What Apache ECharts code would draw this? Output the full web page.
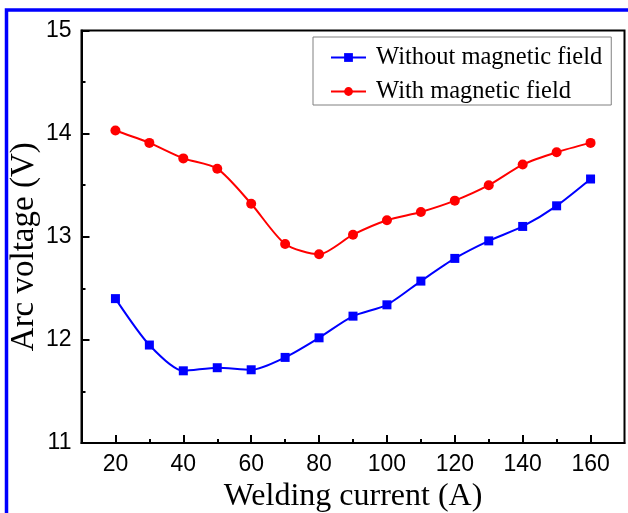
<!DOCTYPE html>
<html>
<head>
<meta charset="utf-8">
<script src="https://cdn.jsdelivr.net/npm/echarts@6/dist/echarts.min.js"></script>
<style>
	html, body { margin: 0; padding: 0; background: #fff; }
	#arc_chart { width: 628px; height: 513px; }
</style>
</head>
<body>
<div id="arc_chart"></div>
<script>
var currents = [20, 30, 40, 50, 60, 70, 80, 90, 100, 110, 120, 130, 140, 150, 160];
var withoutField = [12.40, 11.95, 11.70, 11.73, 11.71, 11.83, 12.02, 12.23, 12.34, 12.57, 12.79, 12.96, 13.10, 13.30, 13.56];
var withField = [14.03, 13.91, 13.76, 13.66, 13.32, 12.93, 12.83, 13.02, 13.16, 13.24, 13.35, 13.50, 13.70, 13.82, 13.91];
var xMajorTicks = [20, 40, 60, 80, 100, 120, 140, 160];
var xMinorTicks = [30, 50, 70, 90, 110, 130, 150];
var seriesNames = ['Without magnetic field', 'With magnetic field'];

window.onload = function () {
	"use strict";
	var chart = echarts.init(document.getElementById('arc_chart'));

	function pairs(values) {
		return currents.map(function (c, i) {
			return [c, values[i]];
		});
	}

	var option = {
		animation: false,
		backgroundColor: '#fff',
		grid: {
			left: 81.5,
			right: 3.5,
			top: 30.5,
			bottom: 70,
			containLabel: false,
			outerBoundsMode: 'none',
			show: true,
			borderColor: '#000',
			borderWidth: 2
		},
		graphic: [{
			type: 'rect',
			shape: { x: 6.5, y: 10, width: 700, height: 600 },
			style: { fill: 'none', stroke: '#0000ff', lineWidth: 3.5 },
			silent: true,
			z: 100
		}],
		legend: {
			orient: 'vertical',
			left: 313,
			top: 37,
			padding: [8, 9, 1, 17],
			itemGap: 9,
			itemWidth: 35,
			itemHeight: 11,
			borderColor: '#808080',
			borderWidth: 1,
			backgroundColor: '#fff',
			data: seriesNames,
			textStyle: {
				fontFamily: 'Liberation Serif',
				fontSize: 24.5,
				lineHeight: 24,
				color: '#000',
				padding: [0, 0, 0, 5]
			}
		},
		xAxis: [{
			type: 'value',
			min: 10,
			max: 170,
			interval: 10,
			position: 'bottom',
			name: 'Welding current (A)',
			nameLocation: 'middle',
			nameGap: 36,
			nameTextStyle: {
				fontFamily: 'Liberation Serif',
				fontSize: 32,
				color: '#000'
			},
			axisLine: { lineStyle: { color: '#000', width: 2 } },
			axisTick: {
				inside: true,
				length: 8,
				customValues: xMajorTicks,
				lineStyle: { color: '#000', width: 2 }
			},
			axisLabel: {
				customValues: xMajorTicks,
				margin: 10,
				fontFamily: 'Liberation Sans',
				fontSize: 23,
				color: '#000'
			},
			splitLine: { show: false }
		}, {
			type: 'value',
			min: 10,
			max: 170,
			position: 'bottom',
			axisLine: { show: false },
			axisTick: {
				inside: true,
				length: 4,
				customValues: xMinorTicks,
				lineStyle: { color: '#000', width: 2 }
			},
			axisLabel: { show: false },
			splitLine: { show: false }
		}],
		yAxis: {
			type: 'value',
			min: 11,
			max: 15,
			interval: 1,
			name: 'Arc voltage (V)',
			nameLocation: 'middle',
			nameGap: 41,
			nameMoveOverlap: false,
			nameTextStyle: {
				fontFamily: 'Liberation Serif',
				fontSize: 33,
				color: '#000',
				padding: [0, 20, 0, 0]
			},
			axisLine: { show: true, lineStyle: { color: '#000', width: 2 } },
			axisTick: {
				inside: true,
				length: 8,
				lineStyle: { color: '#000', width: 2 }
			},
			minorTick: {
				show: true,
				splitNumber: 2,
				length: 4,
				lineStyle: { color: '#000', width: 2 }
			},
			axisLabel: {
				margin: 10,
				fontFamily: 'Liberation Sans',
				fontSize: 23,
				color: '#000'
			},
			splitLine: { show: false }
		},
		series: [{
			name: seriesNames[0],
			type: 'line',
			data: pairs(withoutField),
			smooth: 0.25,
			symbol: 'rect',
			symbolSize: 9,
			itemStyle: { color: '#0000ff' },
			lineStyle: { color: '#0000ff', width: 2 }
		}, {
			name: seriesNames[1],
			type: 'line',
			data: pairs(withField),
			smooth: 0.25,
			symbol: 'circle',
			symbolSize: 10,
			itemStyle: { color: '#ff0000' },
			lineStyle: { color: '#ff0000', width: 2 }
		}]
	};

	chart.setOption(option);
};
</script>
</body>
</html>
